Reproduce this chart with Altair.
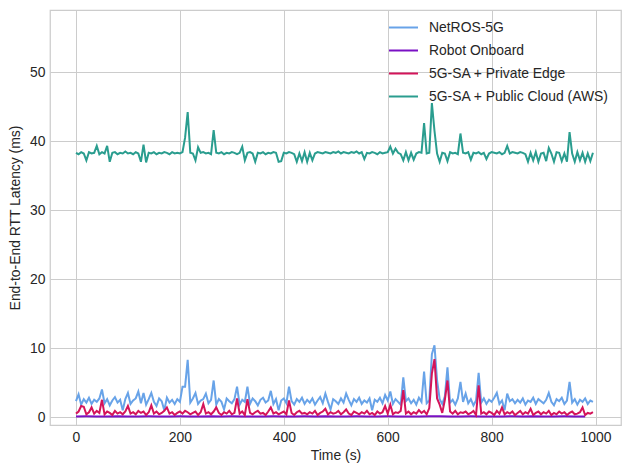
import altair as alt
import pandas as pd

series_names = ["NetROS-5G", "Robot Onboard", "5G-SA + Private Edge", "5G-SA + Public Cloud (AWS)"]
series_colors = ["#68a3e8", "#7a10c4", "#d4145a", "#2a9d8f"]

times = list(range(0, 1000, 5))
robot_times = list(range(0, 1000, 20))

netros = [
    2.3, 3.3, 1.8, 2.6, 2.1, 2.8, 1.9, 2.5, 2.2, 2.7,
    4.0, 2.0, 2.6, 1.7, 2.4, 2.9, 2.1, 2.5, 1.0, 2.6,
    3.5, 1.9, 2.4, 2.7, 3.7, 2.0, 3.5, 1.8, 2.6, 3.5,
    2.2, 1.6, 2.7, 2.3, 1.0, 2.8, 2.1, 2.5, 1.9, 2.6,
    2.2, 4.4, 4.4, 8.3, 2.1, 2.7, 3.5, 1.9, 2.4, 2.6,
    3.4, 2.0, 2.5, 5.3, 1.8, 2.6, 2.2, 1.1, 2.7, 2.3,
    2.0, 2.6, 4.4, 1.8, 2.5, 2.2, 4.4, 1.9, 2.7, 2.3,
    1.7, 2.5, 2.8, 2.1, 2.4, 3.8, 1.9, 2.6, 1.0, 2.4,
    2.7, 2.0, 4.4, 2.3, 1.8, 2.6, 2.2, 2.8, 1.9, 2.5,
    2.1, 2.7, 1.8, 2.4, 2.9, 2.0, 3.4, 2.2, 1.1, 2.6,
    2.3, 1.9, 2.7, 2.1, 3.4, 2.5, 1.7, 2.6, 2.2, 2.8,
    1.9, 2.4, 2.1, 2.7, 1.0, 2.5, 2.2, 2.8, 2.0, 3.2,
    2.4, 3.7, 1.9, 2.6, 2.2, 1.8, 5.75, 2.3, 2.7, 2.0,
    2.5, 1.8, 2.8, 2.2, 6.6, 2.0, 2.4, 9.1, 10.4, 5.3,
    2.6, 1.9, 3.0, 7.2, 2.1, 2.5, 1.8, 2.7, 5.1, 2.2,
    3.4, 2.0, 2.6, 1.7, 2.4, 6.4, 2.1, 2.7, 1.9, 2.5,
    2.2, 2.8, 3.5, 1.9, 2.4, 1.0, 3.4, 2.3, 2.6, 2.0,
    2.5, 2.1, 2.7, 1.8, 2.4, 2.2, 2.8, 1.9, 2.6, 2.3,
    2.0, 2.5, 3.5, 2.2, 1.7, 2.6, 2.3, 2.8, 1.9, 2.4,
    5.1, 2.1, 2.6, 1.8, 2.5, 2.2, 2.7, 1.9, 2.4, 2.2,
]

robot = [
    0.10, 0.11, 0.09, 0.10, 0.12, 0.10, 0.09, 0.11, 0.10, 0.10,
    0.11, 0.09, 0.10, 0.12, 0.10, 0.11, 0.09, 0.10, 0.10, 0.11,
    0.09, 0.10, 0.11, 0.10, 0.12, 0.10, 0.09, 0.11, 0.10, 0.10,
    0.11, 0.09, 0.10, 0.10, 0.12, 0.11, 0.09, 0.10, 0.11, 0.10,
    0.10, 0.09, 0.11, 0.10, 0.12, 0.10, 0.09, 0.11, 0.10, 0.10,
]

private_edge = [
    0.5, 0.8, 1.6, 1.5, 0.4, 0.7, 1.4, 0.5, 0.9, 0.6,
    2.5, 0.4, 0.8, 0.6, 0.3, 0.9, 0.5, 0.7, 0.4, 0.8,
    1.6, 0.5, 0.7, 0.4, 0.9, 0.6, 0.8, 0.3, 0.7, 1.7,
    0.5, 0.8, 0.4, 0.6, 0.9, 1.4, 0.5, 0.7, 0.3, 0.6,
    0.8, 0.5, 0.9, 0.7, 0.4, 0.6, 0.8, 0.3, 0.7, 1.9,
    0.5, 0.7, 0.4, 0.8, 1.4, 0.6, 0.3, 0.7, 0.5, 0.9,
    0.4, 0.6, 2.7, 0.5, 0.8, 0.3, 2.6, 0.6, 0.4, 0.7,
    0.9, 0.5, 0.6, 0.3, 0.8, 1.4, 0.5, 0.7, 0.4, 0.6,
    0.8, 0.4, 2.4, 0.6, 0.3, 0.7, 0.9, 0.5, 0.6, 0.4,
    0.7, 0.5, 0.9, 0.3, 0.6, 0.8, 1.2, 0.4, 0.7, 0.5,
    0.6, 0.9, 0.4, 0.7, 1.1, 0.5, 0.3, 0.8, 0.6, 0.4,
    0.7, 0.5, 0.9, 0.4, 0.6, 0.3, 0.8, 0.5, 0.7, 1.6,
    0.5, 1.8, 0.4, 0.7, 0.6, 0.9, 3.9, 0.5, 0.8, 0.4,
    0.7, 0.5, 1.0, 0.6, 0.9, 0.4, 1.3, 6.3, 8.4, 2.7,
    1.8, 0.6, 2.5, 5.3, 0.8, 0.5, 0.9, 0.4, 0.7, 0.6,
    0.8, 0.4, 0.6, 0.9, 0.3, 4.6, 0.5, 0.7, 0.4, 0.8,
    0.6, 0.3, 0.9, 0.5, 1.4, 0.4, 0.7, 0.5, 0.8, 0.3,
    0.6, 0.9, 0.4, 0.7, 0.5, 1.2, 0.3, 0.6, 0.8, 0.4,
    0.7, 0.5, 0.9, 0.3, 0.6, 0.4, 0.8, 0.5, 0.7, 0.3,
    0.6, 0.8, 0.4, 0.5, 0.7, 1.4, 0.3, 0.6, 0.5, 0.7,
]

public_cloud = [
    38.3, 38.1, 38.4, 38.2, 37.2, 38.4, 38.2, 38.3, 39.3, 38.1,
    38.4, 38.2, 39.3, 37.0, 38.3, 38.4, 38.1, 38.3, 38.2, 38.5,
    38.2, 38.3, 38.1, 38.4, 38.2, 37.0, 39.5, 36.9, 38.3, 38.2,
    38.4, 38.1, 38.3, 38.2, 38.4, 38.3, 38.1, 38.4, 38.2, 38.3,
    38.2, 38.4, 40.5, 44.2, 38.3, 38.2, 37.2, 39.1, 38.3, 38.4,
    38.2, 38.3, 38.1, 41.6, 38.3, 38.2, 38.4, 38.1, 38.3, 38.2,
    38.4, 38.3, 38.1, 38.3, 39.2, 37.2, 38.3, 38.4, 38.2, 37.0,
    38.3, 38.2, 38.4, 38.1, 38.3, 38.2, 38.4, 38.3, 37.0, 37.1,
    38.3, 38.2, 38.4, 38.3, 38.1, 37.0, 38.2, 37.1, 38.4, 37.0,
    38.3, 37.2, 38.2, 38.4, 38.3, 38.2, 38.4, 38.3, 38.2, 38.4,
    38.3, 38.5, 38.2, 38.4, 38.3, 38.2, 38.4, 38.3, 38.5, 38.2,
    38.4, 37.4, 38.3, 38.2, 38.4, 38.3, 38.1, 38.4, 38.2, 38.3,
    38.4, 39.2, 38.2, 38.9, 38.3, 38.1, 37.2, 38.4, 37.2, 38.3,
    37.3, 38.2, 38.4, 38.3, 42.6, 38.2, 38.3, 45.5, 41.5, 38.2,
    37.0, 38.3, 38.2, 37.1, 38.4, 38.2, 38.3, 38.1, 41.1, 38.3,
    38.2, 38.4, 37.3, 38.3, 38.2, 38.4, 38.1, 38.3, 37.4, 38.2,
    38.4, 38.3, 38.2, 38.4, 38.1, 38.3, 39.3, 38.2, 38.4, 38.3,
    38.2, 38.4, 38.3, 38.1, 37.0, 38.3, 37.2, 38.4, 37.0, 38.2,
    38.3, 37.1, 39.0, 38.2, 37.0, 38.4, 38.3, 37.1, 38.2, 37.0,
    41.3, 38.2, 37.0, 38.4, 37.2, 38.3, 37.0, 38.2, 37.1, 38.3,
]

x_ticks = [0, 200, 400, 600, 800, 1000]
y_ticks = [0, 10, 20, 30, 40, 50]

frames = []
for name, t, v in [
    (series_names[0], times, netros),
    (series_names[1], robot_times, robot),
    (series_names[2], times, private_edge),
    (series_names[3], times, public_cloud),
]:
    frames.append(pd.DataFrame({"time": t, "latency": v, "series": name}))
df = pd.concat(frames, ignore_index=True)

FONT = "Liberation Sans"
FS = 13.9

x_enc = alt.X(
    "time:Q",
    scale=alt.Scale(domain=[-50, 1049], nice=False, zero=False),
    axis=alt.Axis(values=x_ticks, title="Time (s)", format="d"),
)
y_enc = alt.Y(
    "latency:Q",
    scale=alt.Scale(domain=[-1.15, 59], nice=False, zero=False),
    axis=alt.Axis(values=y_ticks, title="End-to-End RTT Latency (ms)", format="d"),
)
color_enc = alt.Color(
    "series:N",
    scale=alt.Scale(domain=series_names, range=series_colors),
    sort=series_names,
    legend=alt.Legend(
        title=None,
        orient="none",
        legendX=338,
        legendY=2,
        symbolType="stroke",
        symbolSize=841,
        symbolStrokeWidth=2,
        labelFontSize=FS,
        labelFont=FONT,
        labelColor="#262626",
        labelLimit=400,
        rowPadding=-10.5,
        labelOffset=10,
    ),
)

layers = []
for name in series_names:
    layers.append(
        alt.Chart(df)
        .transform_filter(alt.datum.series == name)
        .mark_line(strokeWidth=2, clip=True)
        .encode(x=x_enc, y=y_enc, color=color_enc)
    )

chart = (
    alt.layer(*layers)
    .properties(
        width=571,
        height=415,
        autosize=alt.AutoSizeParams(type="none"),
        padding={"left": 42, "top": 2, "right": 1, "bottom": 40},
        background="white",
    )
    .configure_view(stroke="#cccccc", strokeWidth=1.25)
    .configure_axis(
        grid=True,
        gridColor="#cccccc",
        gridWidth=1,
        domain=False,
        ticks=False,
        labelFont=FONT,
        labelFontSize=FS,
        labelColor="#262626",
        titleFont=FONT,
        titleFontSize=FS,
        titleColor="#262626",
        titleFontWeight="normal",
        labelPadding=5,
    )
    .configure_axisY(titlePadding=7)
    .configure_axisX(titlePadding=5)
)

chart.save("out.html", embed_options={"renderer": "svg", "actions": False})
